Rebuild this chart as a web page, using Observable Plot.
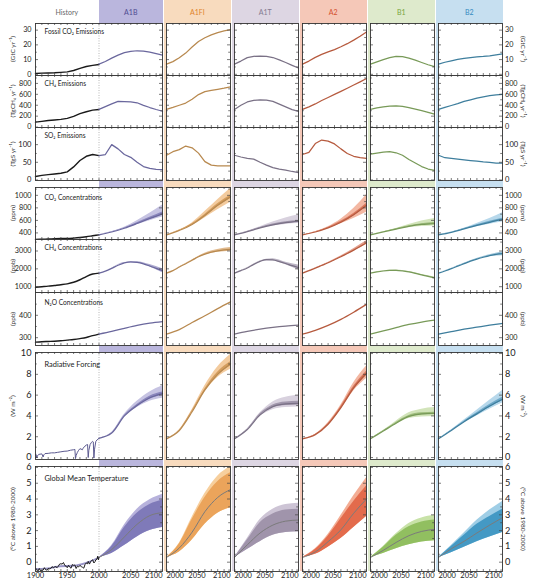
<!DOCTYPE html>
<html><head><meta charset="utf-8">
<script src="https://cdn.jsdelivr.net/npm/d3@7"></script>
<script src="https://cdn.jsdelivr.net/npm/@observablehq/plot@0.6"></script>
<style>
body{margin:0;background:#fff;font-family:Lato,"Open Sans",sans-serif;}
#chart{position:relative;width:537px;height:586px;overflow:hidden;background:#fff;}
.band{position:absolute;top:0;height:571px;}
.head{position:absolute;top:12px;transform:translate(-50%,-50%);font-size:7px;white-space:nowrap;}
.rotL{position:absolute;white-space:nowrap;transform:translate(-50%,-50%) rotate(-90deg);font-size:6.5px;color:#333;}
.rotR{position:absolute;white-space:nowrap;transform:translate(-50%,-50%) rotate(90deg);font-size:6.5px;color:#333;}
</style></head><body><div id="chart"></div><script>
// ---------- categories / ticks ----------
const scenarios = ["A1B","A1FI","A1T","A2","B1","B2"];
const histDecades = [1900,1910,1920,1930,1940,1950,1960,1970,1980,1990,2000];
const decades = [2000,2010,2020,2030,2040,2050,2060,2070,2080,2090,2100];
const years6 = [2000,2020,2040,2060,2080,2100];

// ---------- emissions ----------
const fossilHist = [0.53,0.82,0.93,1.05,1.3,1.63,2.58,4.08,5.3,6.1,6.7];
const fossilCO2 = {
  A1B:[6.9,8.7,11.0,13.0,14.7,15.5,16.0,15.7,15.0,14.1,13.1],
  A1FI:[6.9,8.6,11.2,14.4,18.5,22.3,24.8,26.8,28.3,29.5,30.3],
  A1T:[6.9,9.0,11.3,12.2,12.4,12.2,11.4,9.8,8.0,6.1,4.3],
  A2:[6.9,9.0,11.5,13.5,15.2,16.8,18.7,20.8,23.2,25.8,28.8],
  B1:[6.9,8.5,10.0,11.3,12.2,12.0,11.0,9.6,8.0,6.5,5.2],
  B2:[6.9,8.2,9.2,10.1,10.8,11.4,11.8,12.1,12.5,13.2,13.8]
};
const ch4Hist = [90,105,120,130,140,160,195,245,280,310,323];
const ch4Em = {
  A1B:[323,375,425,470,468,460,445,398,358,322,290],
  A1FI:[323,360,400,440,510,595,650,672,692,712,735],
  A1T:[323,400,460,490,500,495,470,420,370,320,288],
  A2:[323,370,424,486,542,598,654,711,770,829,889],
  B1:[323,350,370,385,390,380,355,330,300,270,236],
  B2:[323,360,395,430,470,500,530,555,575,590,597]
};
const so2Hist = [10,13,15,17,19,23,37,55,67,72,69];
const so2Em = {
  A1B:[69,72,100,88,72,64,50,38,33,30,29],
  A1FI:[70,80,86,96,91,76,52,42,40,40,40],
  A1T:[70,65,61,59,50,42,35,31,28,24,21],
  A2:[72,78,103,113,110,102,88,75,67,63,61],
  B1:[73,76,79,80,77,70,58,48,38,31,27],
  B2:[70,63,61,59,57,55,53,51,50,48,48]
};

// ---------- concentrations ----------
const co2Hist = [296,300,303,307,310,311,317,326,339,354,369];
const co2Mid = {A1B:[369,415,475,550,630,705],A1FI:[369,440,535,680,840,975],A1T:[369,420,480,530,565,585],A2:[369,415,480,570,690,840],B1:[369,415,460,505,535,550],B2:[369,410,465,520,570,615]};
const co2Lo = {A1B:[369,411,466,532,596,655],A1FI:[369,435,520,640,770,890],A1T:[369,415,468,510,535,549],A2:[369,410,470,545,630,730],B1:[369,412,452,485,503,510],B2:[369,407,455,500,540,575]};
const co2Hi = {A1B:[369,420,490,595,715,845],A1FI:[369,445,560,740,930,1110],A1T:[369,425,500,575,640,690],A2:[369,420,500,620,790,1010],B1:[369,418,472,535,590,630],B2:[369,413,475,550,630,720]};
const co2InLo = {A1B:[369,413,470,540,615,690],A1FI:[369,438,528,668,822,950],A1T:[369,418,475,520,552,570],A2:[369,413,475,560,675,815],B1:[369,414,456,497,525,540],B2:[369,409,461,512,558,600]};
const co2InHi = {A1B:[369,417,480,562,650,735],A1FI:[369,442,545,695,865,1000],A1T:[369,422,487,542,580,600],A2:[369,417,487,585,712,870],B1:[369,416,465,515,548,565],B2:[369,411,469,530,585,635]};

const ch4cHist = [970,1000,1030,1070,1110,1160,1250,1390,1570,1710,1760];
const ch4c = {
  A1B:[1760,1870,2030,2200,2330,2390,2360,2280,2160,2030,1900],
  A1FI:[1760,1900,2100,2290,2480,2680,2830,2940,3010,3060,3090],
  A1T:[1760,1900,2050,2250,2420,2520,2500,2410,2300,2180,2070],
  A2:[1760,1900,2040,2190,2340,2510,2680,2860,3050,3250,3460],
  B1:[1760,1830,1880,1910,1920,1890,1830,1750,1660,1580,1500],
  B2:[1760,1880,2010,2150,2290,2430,2550,2650,2740,2810,2850]
};
const ch4cLo = {A1B:[1760,2020,2310,2330,2110,1780],A1FI:[1760,2090,2460,2780,2930,2990],A1T:[1760,2040,2400,2450,2230,1940],A2:[1760,2030,2320,2640,2980,3370],B1:[1760,1870,1905,1810,1630,1460],B2:[1760,2000,2270,2520,2690,2740]};
const ch4cHi = {A1B:[1760,2040,2350,2400,2240,2000],A1FI:[1760,2110,2500,2880,3090,3190],A1T:[1760,2060,2440,2560,2370,2210],A2:[1760,2050,2360,2720,3120,3570],B1:[1760,1890,1935,1850,1690,1550],B2:[1760,2020,2310,2580,2790,2950]};

const n2oHist = [280,282,283,284,286,289,292,296,301,309,316];
const n2o = {A1B:[316,328,342,355,365,372],A1FI:[316,336,368,398,430,460],A1T:[316,328,338,346,352,356],A2:[316,333,355,382,414,449],B1:[316,330,345,359,370,378],B2:[316,327,338,347,356,364]};

// ---------- radiative forcing ----------
const rfHistYears = [1900,1901,1902,1903,1905,1910,1912,1913,1915,1920,1925,1930,1935,1940,1945,1950,1955,1960,1962,1963,1964,1966,1968,1970,1974,1975,1978,1980,1982,1983,1984,1986,1988,1990,1991,1992,1993,1995,1997,2000];
const rfHist = [0.25,0.3,-0.05,0.15,0.3,0.35,0.05,0.25,0.38,0.4,0.45,0.45,0.5,0.55,0.6,0.62,0.7,0.75,0.78,-0.1,0.2,0.5,0.7,0.85,0.75,0.9,1.1,1.2,1.25,0.0,0.7,1.25,1.45,1.55,1.5,-0.05,0.8,1.55,1.7,1.85];
const rfMid = {A1B:[1.85,2.35,4.0,5.0,5.75,6.15],A1FI:[1.8,2.6,4.4,6.5,8.0,9.0],A1T:[1.8,2.7,4.1,4.9,5.15,5.2],A2:[1.8,2.2,3.2,4.8,6.7,8.1],B1:[1.8,2.55,3.3,3.95,4.2,4.25],B2:[1.8,2.6,3.45,4.2,4.95,5.6]};
const rfLo = {A1B:[1.85,2.3,3.9,4.8,5.4,5.7],A1FI:[1.8,2.55,4.3,6.3,7.7,8.5],A1T:[1.8,2.65,3.95,4.6,4.8,4.85],A2:[1.8,2.15,3.1,4.6,6.4,7.6],B1:[1.8,2.5,3.2,3.75,3.9,3.95],B2:[1.8,2.55,3.35,4.0,4.65,5.25]};
const rfHi = {A1B:[1.85,2.4,4.15,5.4,6.3,6.9],A1FI:[1.8,2.65,4.6,6.9,8.7,9.9],A1T:[1.8,2.75,4.3,5.35,5.8,6.0],A2:[1.8,2.25,3.35,5.05,7.2,8.8],B1:[1.8,2.6,3.5,4.3,4.65,4.8],B2:[1.8,2.65,3.6,4.55,5.5,6.45]};
const rfInLo = {A1B:[1.85,2.33,3.95,4.9,5.6,6.0],A1FI:[1.8,2.58,4.35,6.4,7.9,8.8],A1T:[1.8,2.68,4.05,4.8,5.0,5.05],A2:[1.8,2.18,3.15,4.7,6.55,7.9],B1:[1.8,2.53,3.25,3.87,4.1,4.15],B2:[1.8,2.58,3.4,4.1,4.8,5.45]};
const rfInHi = {A1B:[1.85,2.37,4.05,5.1,5.9,6.3],A1FI:[1.8,2.62,4.5,6.6,8.2,9.2],A1T:[1.8,2.72,4.2,5.05,5.35,5.4],A2:[1.8,2.22,3.25,4.9,6.85,8.3],B1:[1.8,2.57,3.38,4.05,4.3,4.35],B2:[1.8,2.62,3.5,4.3,5.1,5.8]};

// ---------- temperature ----------
const tempHistYears = [1900,1902,1904,1906,1908,1910,1912,1914,1916,1918,1920,1922,1924,1926,1928,1930,1932,1934,1936,1938,1940,1942,1944,1946,1948,1950,1952,1954,1956,1958,1960,1962,1964,1966,1968,1970,1972,1974,1976,1978,1980,1982,1983,1985,1987,1988,1990,1992,1994,1995,1997,1998,1999,2000];
const tempHist = [-0.38,-0.45,-0.55,-0.4,-0.55,-0.52,-0.5,-0.35,-0.48,-0.5,-0.4,-0.42,-0.4,-0.28,-0.35,-0.3,-0.28,-0.35,-0.25,-0.12,-0.1,-0.12,-0.02,-0.2,-0.25,-0.35,-0.2,-0.32,-0.38,-0.15,-0.2,-0.18,-0.4,-0.25,-0.3,-0.2,-0.28,-0.32,-0.38,-0.15,-0.05,-0.1,0.05,-0.12,0.05,0.1,0.15,-0.05,0.05,0.15,0.2,0.38,0.15,0.3];
const tempHistBandYears = [1900,1920,1940,1960,1980,2000];
const tempHistLo = [-0.52,-0.47,-0.35,-0.32,-0.15,0.2];
const tempHistHi = [-0.42,-0.37,-0.22,-0.2,-0.02,0.32];
const tMid = {A1B:[0.3,0.8,1.6,2.4,2.95,3.14],A1FI:[0.3,0.9,1.9,3.2,4.1,4.6],A1T:[0.3,1.1,1.85,2.35,2.6,2.67],A2:[0.3,0.65,1.3,2.05,3.1,4.0],B1:[0.3,0.75,1.25,1.68,1.95,2.08],B2:[0.3,0.85,1.32,1.85,2.35,2.82]};
const tLo = {A1B:[0.3,0.55,1.05,1.6,2.0,2.2],A1FI:[0.3,0.65,1.4,2.4,3.1,3.45],A1T:[0.3,0.8,1.3,1.7,1.88,1.92],A2:[0.3,0.5,0.95,1.5,2.2,2.9],B1:[0.3,0.55,0.85,1.1,1.28,1.35],B2:[0.3,0.6,0.95,1.3,1.6,1.88]};
const tHi = {A1B:[0.3,1.0,2.2,3.1,3.65,3.94],A1FI:[0.3,1.15,2.7,4.1,5.1,5.66],A1T:[0.3,1.4,2.5,3.05,3.3,3.35],A2:[0.3,0.8,1.65,2.75,3.85,4.82],B1:[0.3,0.95,1.7,2.25,2.55,2.67],B2:[0.3,1.0,1.7,2.4,2.9,3.35]};
const tHiLight = {A1B:[0.3,1.05,2.35,3.35,3.95,4.3],A1FI:[0.3,1.2,2.85,4.35,5.45,6.04],A1T:[0.3,1.5,2.7,3.35,3.65,3.73],A2:[0.3,0.85,1.75,2.95,4.2,5.35],B1:[0.3,1.0,1.8,2.45,2.8,2.97],B2:[0.3,1.05,1.85,2.65,3.3,3.85]};

// ---------- rows (labels, tick values) ----------
const rowTitles = ["Fossil CO₂ Emissions","CH₄ Emissions","SO₂ Emissions","CO₂ Concentrations","CH₄ Concentrations","N₂O Concentrations","Radiative Forcing","Global Mean Temperature"];
const rowUnits = ["(GtC yr⁻¹)","(TgCH₄ yr⁻¹)","(TgS yr⁻¹)","(ppm)","(ppb)","(ppb)","(W m⁻²)","(°C above 1980-2000)"];
const rowTicks = [[0,10,20,30],[0,200,400,600,800],[0,50,100],[400,600,800,1000],[1000,2000,3000],[300,400],[0,2,4,6,8,10],[0,1,2,3,4,5,6]];
const rowMinor = [5,100,25,100,500,50,1,0.5];
const rowDomain = [[-0.8,34.5],[-8,945],[-1.5,148.5],[295,1125],[675,3645],[265,502],[-0.19,10.1],[-0.59,6.06]];
const xLabelsHist = [1900,1950,2000,2050,2100];
const xLabelsScen = [2000,2050,2100];

// ---------- layout & style ----------
const FONT = "Lato, 'Open Sans', sans-serif";
const colL = [35,166,234,302,370,438], colR = [162,230,298,366,434,502];
const rowT = [23,75,127,187,239,292,352,466], rowB = [75,127,180,239,292,345,459,571];
const rowFS = [7.2,7.2,7.6,7.2,7.2,7.2,9.2,9.2];
const titleDy = [8.5,8,8,10,8.5,10,12.5,12];
const titleFS = [6.6,6.6,6.6,6.6,6.6,6.6,7.4,7.4];
const bandL = [98.5,163.5,231.5,299.5,367.5,435.5], bandR = [163,231,299,367,435,503];
const HIST = "#1a1a1a", RFHIST = "#5c5a90";
const lineC = {A1B:"#6a679d",A1FI:"#b8894f",A1T:"#7a7186",A2:"#b65a3e",B1:"#789a58",B2:"#3e7e9d"};
const bandC = {A1B:"#bab6dd",A1FI:"#f8dbbe",A1T:"#ddd6e3",A2:"#f5c8b8",B1:"#deeacc",B2:"#c6dff0"};
const headC = {A1B:"#4f4c92",A1FI:"#e0832a",A1T:"#857b92",A2:"#d4502f",B1:"#78a63c",B2:"#338ac0"};
const lightC = {A1B:"#c6c3e2",A1FI:"#f3cb9e",A1T:"#d8d1de",A2:"#f3b8a3",B1:"#d2e4ba",B2:"#b7d8eb"};
const innerC = {A1B:"#8985bb",A1FI:"#d49d5e",A1T:"#a096ab",A2:"#d9785d",B1:"#9cbb7b",B2:"#6da8c8"};
const tDark = {A1B:"#7f7ab9",A1FI:"#eba45b",A1T:"#a094ab",A2:"#e36b4c",B1:"#91bf60",B2:"#4499c4"};
const tLight = {A1B:"#b7b2dc",A1FI:"#f7cf9d",A1T:"#cdc4d5",A2:"#f3ad94",B1:"#c8e2a8",B2:"#9fcee6"};

const pts = (xs, ys) => xs.map((x,i)=>({x, y: ys[i]}));
const rng = (xs, lo, hi) => xs.map((x,i)=>({x, y1: lo[i], y2: hi[i]}));
const line = (xs, ys, stroke, smooth, w=1.25) => Plot.line(pts(xs,ys), {x:"x", y:"y", stroke, strokeWidth:w, curve: smooth ? "monotone-x" : "linear"});
const area = (xs, lo, hi, fill, op=1) => Plot.areaY(rng(xs,lo,hi), {x:"x", y1:"y1", y2:"y2", fill, fillOpacity:op, curve:"monotone-x"});

const chart = document.getElementById("chart");

// column background bands + headers
scenarios.forEach((s,i)=>{
  const b = document.createElement("div");
  b.className = "band";
  b.style.left = bandL[i]+"px"; b.style.width = (bandR[i]-bandL[i])+"px"; b.style.background = bandC[s];
  chart.appendChild(b);
});
const heads = [["History",(colL[0]+bandL[0])/2,"#666"]].concat(scenarios.map((s,i)=>[s,(bandL[i]+bandR[i])/2,headC[s]]));
heads.forEach(([t,x,c])=>{
  const d = document.createElement("div");
  d.className = "head"; d.textContent = t; d.style.left = x+"px"; d.style.color = c;
  chart.appendChild(d);
});

function dataMarks(ri, s, col) {
  const M = [];
  const h = col === 0;
  switch (ri) {
    case 0:
      if (h) M.push(line(histDecades, fossilHist, HIST, false, 1.4));
      M.push(line(decades, fossilCO2[s], lineC[s], false)); break;
    case 1:
      if (h) M.push(line(histDecades, ch4Hist, HIST, false, 1.4));
      M.push(line(decades, ch4Em[s], lineC[s], false)); break;
    case 2:
      if (h) M.push(line(histDecades, so2Hist, HIST, false, 1.4));
      M.push(line(decades, so2Em[s], lineC[s], false)); break;
    case 3:
      if (h) M.push(line(histDecades, co2Hist, HIST, true, 1.4));
      M.push(area(years6, co2Lo[s], co2Hi[s], lightC[s]));
      M.push(area(years6, co2InLo[s], co2InHi[s], innerC[s]));
      M.push(line(years6, co2Mid[s], lineC[s], true)); break;
    case 4:
      if (h) M.push(line(histDecades, ch4cHist, HIST, true, 1.4));
      M.push(area(years6, ch4cLo[s], ch4cHi[s], innerC[s], 0.7));
      M.push(line(decades, ch4c[s], lineC[s], true)); break;
    case 5:
      if (h) M.push(line(histDecades, n2oHist, HIST, true, 1.4));
      M.push(line(years6, n2o[s], lineC[s], true)); break;
    case 6:
      if (h) M.push(line(rfHistYears, rfHist, RFHIST, false, 1));
      M.push(area(years6, rfLo[s], rfHi[s], lightC[s]));
      M.push(area(years6, rfInLo[s], rfInHi[s], innerC[s]));
      M.push(line(years6, rfMid[s], lineC[s], true)); break;
    case 7:
      if (h) M.push(area(tempHistBandYears, tempHistLo, tempHistHi, tDark[s], 0.8));
      M.push(area(years6, tLo[s], tHiLight[s], tLight[s]));
      M.push(area(years6, tLo[s], tHi[s], tDark[s]));
      M.push(line(years6, tMid[s], "#7b7b7b", true, 1));
      if (h) M.push(line(tempHistYears, tempHist, HIST, false, 1));
      break;
  }
  return M;
}

for (let ri = 0; ri < 8; ri++) {
  for (let col = 0; col < 6; col++) {
    const s = scenarios[col];
    const isL = col === 0, isR = col === 5, isB = ri === 7;
    const iw = colR[col]-colL[col], ih = rowB[ri]-rowT[ri];
    const ml = isL ? colL[0] : 0, mr = isR ? 35 : 0, mb = isB ? 14 : 0;
    const [d0,d1] = rowDomain[ri];
    const mn = rowMinor[ri];
    const yMinor = d3.range(Math.ceil(d0/mn)*mn, d1, mn).filter(v => v > d0 + mn*0.05 && v < d1 - mn*0.05 && !rowTicks[ri].includes(+v.toFixed(6)));
    const yMajor = rowTicks[ri].filter(v => v > d0 && v < d1);
    const xt = d3.range(col===0?1910:2010, 2100, 10);
    const tk = {stroke:"#444", strokeWidth:0.7};
    const marks = [Plot.frame({fill:"white"})];
    if (isL) marks.push(Plot.ruleX([2000], {stroke:"#9a9a9a", strokeDasharray:"0.9,1.6", strokeWidth:0.8}));
    marks.push(...dataMarks(ri, s, col));
    marks.push(
      Plot.ruleX(xt, {...tk, insetBottom: ih-2}),
      Plot.ruleX(xt, {...tk, insetTop: ih-2}),
      Plot.ruleY(yMinor, {...tk, insetRight: iw-1.8}),
      Plot.ruleY(yMinor, {...tk, insetLeft: iw-1.8}),
      Plot.ruleY(yMajor, {...tk, insetRight: iw-3}),
      Plot.ruleY(yMajor, {...tk, insetLeft: iw-3}),
      Plot.frame({stroke:"#333", strokeWidth:0.9})
    );
    if (isL) marks.push(Plot.text([rowTitles[ri]], {text: d=>d, frameAnchor:"top-left", dx:9, dy:titleDy[ri], lineAnchor:"middle", fontSize:titleFS[ri], fill:"#222"}));
    if (isB) {
      const labs = isL ? xLabelsHist : xLabelsScen;
      const first = labs.slice(0, labs.length-1), last = [labs[labs.length-1]];
      if (isL) {
        marks.push(Plot.text(first, {x:d=>d, text:d=>String(d), frameAnchor:"bottom", dy:6.5, fontSize:7.5, fill:"#222", textAnchor:"middle"}));
      } else {
        marks.push(Plot.text([labs[0]], {x:d=>d, text:d=>String(d), frameAnchor:"bottom", dy:6.5, fontSize:7.5, fill:"#222", textAnchor:"start"}));
        marks.push(Plot.text([labs[1]], {x:d=>d, text:d=>String(d), frameAnchor:"bottom", dy:6.5, dx:-1.5, fontSize:7.5, fill:"#222", textAnchor:"middle"}));
      }
      marks.push(Plot.text(last, {x:d=>d, text:d=>String(d), frameAnchor:"bottom", dy:6.5, fontSize:7.5, fill:"#222", textAnchor:"end"}));
    }
    const svg = Plot.plot({
      width: iw+ml+mr, height: ih+mb,
      marginLeft: ml, marginRight: mr, marginTop: 0, marginBottom: mb,
      x: {domain: col===0 ? [1900,2100] : [2000,2100], axis: null},
      y: {domain: rowDomain[ri], axis: isL ? "left" : (isR ? "right" : null), ticks: rowTicks[ri], tickSize: 0, tickPadding: isL ? 4 : 2.5, label: null, tickFormat: d => String(d)},
      style: `font-size:${rowFS[ri]}px;font-family:${FONT};background:transparent;overflow:visible;color:#222;`,
      marks
    });
    svg.style.position = "absolute";
    svg.style.left = (isL ? 0 : colL[col]) + "px";
    svg.style.top = rowT[ri] + "px";
    svg.style.maxWidth = "none";
    chart.appendChild(svg);
  }
  const cy = (rowT[ri]+rowB[ri])/2;
  const l = document.createElement("div"); l.className = "rotL"; l.textContent = rowUnits[ri];
  l.style.left = "12px"; l.style.top = cy+"px"; chart.appendChild(l);
  const r = document.createElement("div"); r.className = "rotR"; r.textContent = rowUnits[ri];
  r.style.left = "523px"; r.style.top = cy+"px"; chart.appendChild(r);
}
</script></body></html>
